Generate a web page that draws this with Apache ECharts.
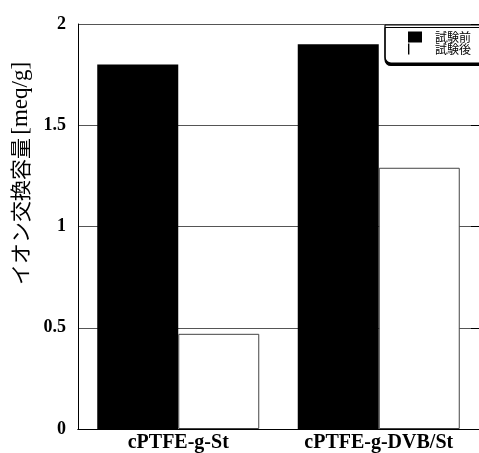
<!DOCTYPE html>
<html><head><meta charset="utf-8">
<script src="https://cdn.jsdelivr.net/npm/echarts@6/dist/echarts.min.js"></script>
<style>html,body{margin:0;padding:0;background:#fff}#c{width:479px;height:453px}</style>
</head><body><div id="c"></div>
<script>
const categories = ['cPTFE-g-St', 'cPTFE-g-DVB/St'];
const before = [1.80, 1.90];
const after = [0.47, 1.29];
const yTicks = [0, 0.5, 1, 1.5, 2];
const seriesNames = ['試験前', '試験後'];
const yNameJa = 'イオン交換容量';
const yNameUnit = '[meq/g]';

const chart = echarts.init(document.getElementById('c'));
const serif = '"Liberation Serif", "Times New Roman", serif';
const cjk = '"Noto Sans CJK JP", sans-serif';
chart.setOption({
  animation: false,
  grid: { left: 78, right: -3, top: 24, bottom: 23 },
  legend: {
    data: [
      { name: seriesNames[0], icon: 'rect' },
      { name: seriesNames[1], icon: 'path://M0,0L1.4,0L1.4,10L0,10Z M14,10L14,10', itemStyle: { color: '#000', borderWidth: 0 } }
    ],
    orient: 'vertical', right: -12, top: 25,
    itemWidth: 14, itemHeight: 11, itemGap: 0,
    symbolKeepAspect: false,
    padding: [6, 20, 8, 23],
    backgroundColor: '#fff', borderColor: '#000', borderWidth: 1.2,
    borderRadius: [0, 0, 0, 6],
    shadowColor: '#000', shadowBlur: 0, shadowOffsetX: 0, shadowOffsetY: 2.5,
    textStyle: { fontFamily: cjk, fontSize: 12, color: '#000', padding: [0, 0, 0, 8], lineHeight: 10 }
  },
  xAxis: [{
    type: 'category', data: categories,
    axisLine: { lineStyle: { color: '#000', width: 1 } },
    axisTick: { show: false },
    axisLabel: { fontFamily: serif, fontWeight: 'bold', fontSize: 20, color: '#000', margin: 4 }
  }, {
    type: 'category', data: categories, position: 'top',
    axisLine: { lineStyle: { color: '#000', width: 1 } },
    axisTick: { show: false }, axisLabel: { show: false }
  }],
  yAxis: [{
    type: 'value', min: yTicks[0], max: yTicks[yTicks.length - 1], interval: 0.5,
    name: '{ja|' + yNameJa + '} {u|' + yNameUnit + '}', nameLocation: 'middle', nameGap: 46, nameRotate: 90,
    nameTextStyle: {
      padding: [0, 0, 0, 106],
      rich: {
        ja: { fontFamily: cjk, fontSize: 21, color: '#000' },
        u: { fontFamily: serif, fontSize: 23, color: '#000' }
      }
    },
    axisLine: { show: true, lineStyle: { color: '#000', width: 1 } },
    axisTick: { show: false },
    axisLabel: { fontFamily: serif, fontWeight: 'bold', fontSize: 18, color: '#000', margin: 12 },
    splitLine: { show: true, lineStyle: { color: '#555', width: 1 } }
  }, {
    type: 'value', min: yTicks[0], max: yTicks[yTicks.length - 1], interval: 0.5, position: 'right',
    axisLine: { show: true, lineStyle: { color: '#000' } },
    axisTick: { show: true, inside: true, length: 8, lineStyle: { color: '#000' } },
    axisLabel: { show: false }, splitLine: { show: false }
  }],
  series: [{
    name: seriesNames[0], type: 'bar', data: before, barWidth: 81, barGap: '0%',
    itemStyle: { color: '#000' }
  }, {
    name: seriesNames[1], type: 'bar', data: after, barWidth: 81, barGap: '0%',
    itemStyle: { color: '#fff', borderColor: '#444', borderWidth: 1 }
  }]
});
</script></body></html>
